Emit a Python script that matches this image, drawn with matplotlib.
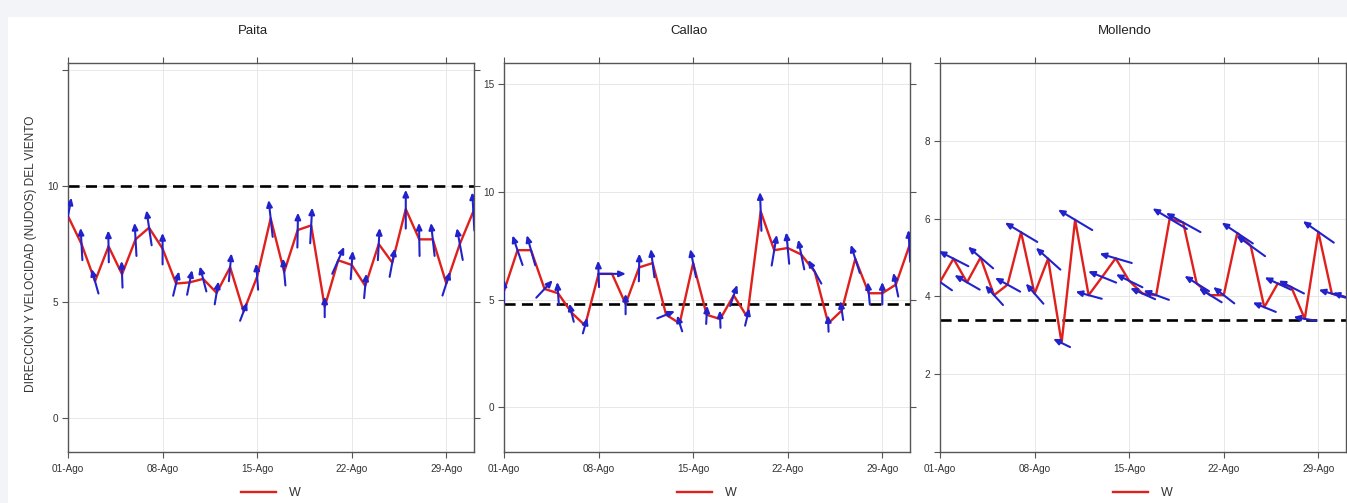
import numpy as np
import matplotlib
matplotlib.use("Agg")
import matplotlib.pyplot as plt
import matplotlib.dates as mdates
from matplotlib.patches import FancyArrowPatch, Rectangle

plt.rcParams['font.family'] = ['Liberation Sans', 'DejaVu Sans']

# =====================================================
# DATOS (agosto, valores diarios)
# =====================================================
dias = np.arange(np.datetime64("2016-08-01"), np.datetime64("2016-09-01"))

estaciones = ["Paita", "Callao", "Mollendo"]

# velocidad del viento (nudos)
paita_ws = [8.7, 7.5, 5.9, 7.4, 6.2, 7.7, 8.2, 7.3, 5.8, 5.85, 6.0, 5.4, 6.5, 4.6, 6.1, 8.6,
            6.3, 8.1, 8.3, 4.8, 6.8, 6.6, 5.7, 7.5, 6.7, 9.0, 7.7, 7.7, 5.8, 7.5, 8.9]
callao_ws = [5.4, 7.3, 7.3, 5.5, 5.3, 4.4, 3.8, 6.2, 6.2, 4.8, 6.5, 6.7, 4.3, 3.9, 6.7, 4.3,
             4.1, 5.2, 4.2, 9.1, 7.3, 7.4, 7.1, 6.3, 3.9, 4.5, 6.9, 5.3, 5.3, 5.7, 7.5]
mollendo_ws = [4.37, 4.97, 4.36, 5.0, 4.03, 4.3, 5.65, 4.07, 4.97, 2.8, 5.97, 4.03, 4.5, 4.98,
               4.4, 4.07, 4.03, 6.0, 5.9, 4.33, 4.03, 4.03, 5.63, 5.3, 3.72, 4.33, 4.24, 3.42,
               5.66, 4.07, 3.98]

# direccion del viento (grados, de donde viene)
paita_wd = [190, 177, 165, 179, 178, 177, 172, 180, 193, 191, 166, 189, 185, 200, 176, 174,
            175, 181, 183, 180, 203, 184, 185, 183, 190, 180, 179, 174, 197, 170, 177]
callao_wd = [180, 162, 165, 222, 176, 167, 195, 178, 270, 180, 181, 173, 247, 163, 169, 183,
             178, 198, 193, 178, 189, 175, 169, 152, 178, 172, 163, 175, 180, 169, 177]
mollendo_wd = [126, 118, 121, 132, 139, 120, 122, 140, 133, 117, 122, 106, 113, 107, 117, 115,
               111, 122, 120, 123, 123, 129, 125, 127, 113, 116, 118, 100, 126, 107, 110]

# linea de referencia
referencia = [10.0, 4.8, 3.4]

velocidades = [paita_ws, callao_ws, mollendo_ws]
direcciones = [paita_wd, callao_wd, mollendo_wd]

y_limites = [(-1.43, 15.27), (-2.06, 15.98), (0.0, 10.0)]
y_ticks = [[0, 5, 10, 15], [0, 5, 10, 15], [0, 2, 4, 6, 8, 10]]
y_etiquetas = [["0", "5", "10", ""], ["0", "5", "10", "15"], ["", "2", "4", "6", "8", ""]]

x_ticks = np.array(["2016-08-01", "2016-08-08", "2016-08-15", "2016-08-22", "2016-08-29"],
                   dtype="datetime64[D]")
x_etiquetas = ["01-Ago", "08-Ago", "15-Ago", "22-Ago", "29-Ago"]

# =====================================================
# FIGURA
# =====================================================
W, H = 1347, 503
fig = plt.figure(figsize=(W / 100, H / 100), dpi=100, facecolor="#f3f4f8")
fig.patches.append(Rectangle((8 / W, 0), 1, (H - 17) / H, transform=fig.transFigure,
                             facecolor="white", edgecolor="none", zorder=-10))

izquierdas = [68, 504, 940]
ancho, top_px, bottom_px = 406, 63.3, 451.7
titulo_x = [253, 689, 1125]

for i, nombre in enumerate(estaciones):
    ax = fig.add_axes([izquierdas[i] / W, (H - bottom_px) / H, ancho / W,
                       (bottom_px - top_px) / H])
    ws = np.array(velocidades[i], dtype=float)
    wd = np.radians(np.array(direcciones[i], dtype=float) + 180.0)

    xnum = mdates.date2num(dias)
    x0, x1 = xnum[0], xnum[0] + 30.05
    ax.set_xlim(x0, x1)
    ax.set_ylim(*y_limites[i])

    ax.grid(True, color="#e8e8e8", lw=0.7, zorder=0)
    ax.axhline(referencia[i], color="black", lw=1.9, ls=(0, (4.2, 2.4)), zorder=2)

    linea, = ax.plot(xnum, ws, color="#e0201c", lw=1.7, zorder=3)

    # flechas de direccion (centradas en cada punto, largo segun velocidad)
    escala = 0.1 * ws / ws.max()
    dx = escala * (x1 - x0) * np.sin(wd)
    dy = escala * (y_limites[i][1] - y_limites[i][0]) * np.cos(wd)
    for xv, yv, ddx, ddy in zip(xnum, ws, dx, dy):
        flecha = FancyArrowPatch((xv - ddx / 2, yv - ddy / 2), (xv + ddx / 2, yv + ddy / 2),
                                 arrowstyle="-|>,head_length=0.38,head_width=0.17",
                                 mutation_scale=10, color="#2222cc", lw=1.5,
                                 shrinkA=0, shrinkB=0, zorder=4)
        ax.add_patch(flecha)

    ax.set_xticks(mdates.date2num(x_ticks))
    ax.set_xticklabels(x_etiquetas)
    ax.set_yticks(y_ticks[i])
    ax.set_yticklabels(y_etiquetas[i])
    ax.tick_params(direction="out", length=4, width=0.8, color="#555555", top=True,
                   right=True, labelsize=7.2, labelcolor="#333333", pad=3)
    ax.tick_params(axis="x", pad=5)
    for sp in ax.spines.values():
        sp.set_color("#555555")
        sp.set_linewidth(1.0)

    fig.text(titulo_x[i] / W, (H - 31) / H, nombre, ha="center", va="center",
             fontsize=9.5, color="#222222")

    cx = (izquierdas[i] + ancho / 2) / W
    ax.legend([linea], ["W"], loc="center", bbox_to_anchor=(cx, 10 / H),
              bbox_transform=fig.transFigure, frameon=False, fontsize=9,
              handlelength=2.8, handletextpad=1.0, labelcolor="#333333")

fig.text(30 / W, (H - 254) / H, "DIRECCIÓN Y VELOCIDAD (NUDOS) DEL VIENTO",
         rotation=90, ha="center", va="center", fontsize=8.6, color="#333333")

fig.savefig("out.png", dpi=100, facecolor=fig.get_facecolor())
